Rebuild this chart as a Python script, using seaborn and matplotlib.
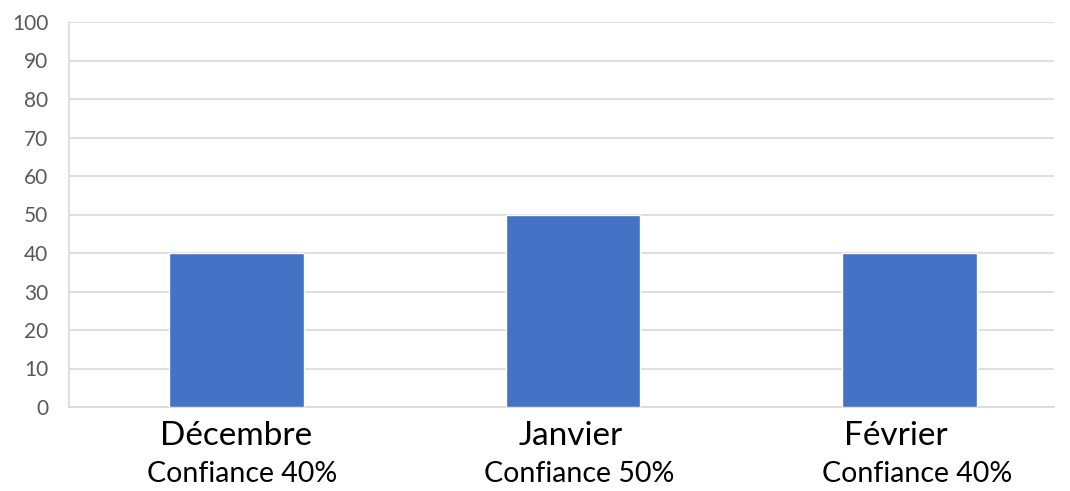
import matplotlib
matplotlib.use("Agg")
import matplotlib.pyplot as plt
import matplotlib.transforms as mtransforms
import pandas as pd
import seaborn as sns

# chart data
months = ["Décembre", "Janvier", "Février"]
values = [40, 50, 40]
confidence = ["Confiance 40%", "Confiance 50%", "Confiance 40%"]
y_ticks = list(range(0, 101, 10))


def main():
    sns.set_style("white")
    plt.rcParams["font.family"] = ["Lato", "DejaVu Sans"]

    df = pd.DataFrame({"mois": months, "valeur": values})

    fig = plt.figure(figsize=(10.7, 4.91), dpi=100)
    ax = fig.add_axes([69 / 1070, 1 - 407 / 491, (1054 - 69) / 1070, (407 - 22) / 491])

    sns.barplot(data=df, x="mois", y="valeur", color="#4472C4", saturation=1,
                width=0.40, ax=ax, zorder=3)

    ax.set_ylim(0, 100)
    ax.set_xlim(-0.498, 2.43)
    ax.set_yticks(y_ticks)
    ax.set_yticklabels([str(t) for t in y_ticks], fontsize=15, color="#595959")
    ax.yaxis.grid(True, color="#D9D9D9", lw=1.2, zorder=0)
    ax.set_axisbelow(True)
    ax.tick_params(axis="y", length=0, pad=15)
    ax.set_xticks(range(len(months)))
    ax.set_xticklabels([])
    ax.tick_params(axis="x", length=0)
    ax.set_xlabel("")
    ax.set_ylabel("")

    for side in ["top", "right"]:
        ax.spines[side].set_visible(False)
    for side in ["left", "bottom"]:
        ax.spines[side].set_color("#D9D9D9")
        ax.spines[side].set_linewidth(1.2)

    # two-line category labels, as placed in the original
    trans = mtransforms.blended_transform_factory(ax.transData, fig.transFigure)
    month_shift = [0.0, -0.006, -0.04]
    conf_shift = [0.018, 0.018, 0.022]
    for i in range(len(months)):
        ax.text(i + month_shift[i], 1 - 436 / 491, months[i], transform=trans,
                ha="center", va="center", fontsize=24, color="black")
        ax.text(i + conf_shift[i], 1 - 474 / 491, confidence[i], transform=trans,
                ha="center", va="center", fontsize=20.5, color="black")

    fig.savefig("out.png", dpi=100)
    plt.close(fig)


if __name__ == "__main__":
    main()
